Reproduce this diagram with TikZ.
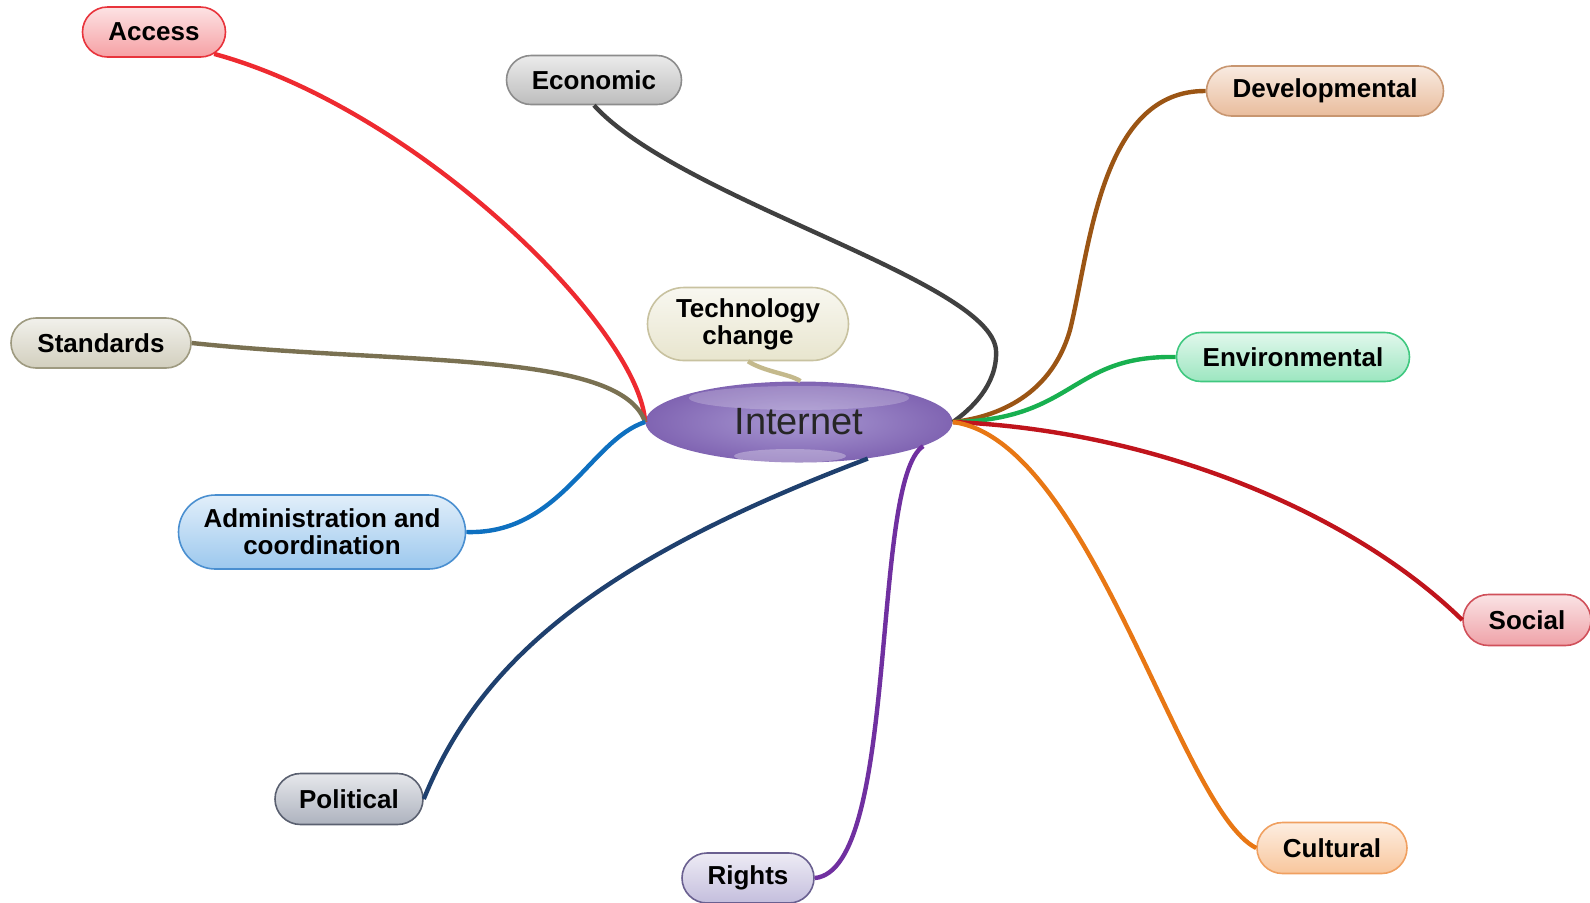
\documentclass[tikz,border=0pt]{standalone}
\usepackage{fontspec}
\setmainfont{Liberation Sans}
\usetikzlibrary{shapes.geometric}
\usetikzlibrary{shapes.misc}

% topic colours: border, fill, connector
\definecolor{accessline}{HTML}{E8343C}\definecolor{accessfill}{HTML}{F6A0A4}\definecolor{accesswire}{HTML}{EE2A30}
\definecolor{econline}{HTML}{8C8C8C}\definecolor{econfill}{HTML}{BDBDBD}\definecolor{econwire}{HTML}{404040}
\definecolor{devline}{HTML}{C89670}\definecolor{devfill}{HTML}{E9BC9C}\definecolor{devwire}{HTML}{9B5514}
\definecolor{techline}{HTML}{C8C2A0}\definecolor{techfill}{HTML}{E8E5CE}\definecolor{techwire}{HTML}{C4B98C}
\definecolor{stdline}{HTML}{9E9A80}\definecolor{stdfill}{HTML}{D2CFBE}\definecolor{stdwire}{HTML}{7A7152}
\definecolor{envline}{HTML}{40C880}\definecolor{envfill}{HTML}{9CE6C0}\definecolor{envwire}{HTML}{18B050}
\definecolor{adminline}{HTML}{4A8FD0}\definecolor{adminfill}{HTML}{9CC8EE}\definecolor{adminwire}{HTML}{0E70C0}
\definecolor{socline}{HTML}{D0505A}\definecolor{socfill}{HTML}{EFA2A8}\definecolor{socwire}{HTML}{C0141C}
\definecolor{polline}{HTML}{5A6070}\definecolor{polfill}{HTML}{ADB2BE}\definecolor{polwire}{HTML}{1F406E}
\definecolor{rightline}{HTML}{6A6090}\definecolor{rightfill}{HTML}{C4BEDD}\definecolor{rightwire}{HTML}{7030A0}
\definecolor{cultline}{HTML}{F0A060}\definecolor{cultfill}{HTML}{F8C69C}\definecolor{cultwire}{HTML}{E87714}
\definecolor{netinner}{HTML}{A898D2}\definecolor{netouter}{HTML}{8064B2}

\tikzset{
  topic/.style 2 args={rounded rectangle, draw=#1, line width=0.8pt, top color=white!70!#2, bottom color=#2,
    font=\bfseries\fontsize{13}{13.5}\selectfont, align=center, inner sep=0pt},
  link/.style={line width=2.2pt}
}

\begin{document}
\begin{tikzpicture}[x=0.5pt, y=-0.5pt]
\useasboundingbox (0,0) rectangle (1590,902);

% Centre
\node[ellipse, minimum width=153.5pt, minimum height=40.5pt, inner color=netinner, outer color=netouter] (internet) at (799,422) {};
\fill[white, opacity=0.22] (799,398) ellipse (55pt and 6pt);
\fill[white, opacity=0.3] (790,456) ellipse (28pt and 3.5pt);
\node[font=\fontsize{19}{22}\selectfont, text=black!85] (nettext) at (799,422) {Internet};

% Topics
\node[topic={accessline}{accessfill}, minimum width=71.5pt, minimum height=25pt] (access) at (154,32) {Access};
\node[topic={econline}{econfill}, minimum width=87.5pt, minimum height=24.5pt] (economic) at (594,80) {Economic};
\node[topic={devline}{devfill}, minimum width=118.5pt, minimum height=25pt] (developmental) at (1325,91) {Developmental};
\node[topic={techline}{techfill}, minimum width=100.5pt, minimum height=36.5pt] (technology) at (748,324) {Technology\\change};
\node[topic={stdline}{stdfill}, minimum width=90pt, minimum height=25pt] (standards) at (101,343) {Standards};
\node[topic={envline}{envfill}, minimum width=116.5pt, minimum height=24.5pt] (environmental) at (1293,357) {Environmental};
\node[topic={adminline}{adminfill}, minimum width=143.5pt, minimum height=37pt] (admin) at (322,532) {Administration and\\coordination};
\node[topic={socline}{socfill}, minimum width=64pt, minimum height=25.5pt] (social) at (1527,620) {Social};
\node[topic={polline}{polfill}, minimum width=74pt, minimum height=25.5pt] (political) at (349,799) {Political};
\node[topic={rightline}{rightfill}, minimum width=66pt, minimum height=25pt] (rights) at (748,878) {Rights};
\node[topic={cultline}{cultfill}, minimum width=75pt, minimum height=25.5pt] (cultural) at (1332,848) {Cultural};

% Connectors
\draw[link, accesswire] (access.-20) .. controls (420,110) and (640,330) .. (internet.west);
\draw[link, stdwire] (standards.east) .. controls (400,365) and (620,350) .. (internet.west);
\draw[link, adminwire] (admin.east) .. controls (560,535) and (590,440) .. (internet.west);
\draw[link, econwire] (economic.south) .. controls (680,200) and (990,280) .. (996,350)
  .. controls (998,385) and (970,410) .. (internet.east);
\draw[link, devwire] (developmental.west) .. controls (1100,90) and (1090,250) .. (1070,330)
  .. controls (1050,400) and (990,418) .. (internet.east);
\draw[link, envwire] (environmental.west) .. controls (1070,355) and (1075,420) .. (internet.east);
\draw[link, socwire] (social.west) .. controls (1350,510) and (1150,430) .. (internet.east);
\draw[link, cultwire] (cultural.west) .. controls (1180,810) and (1090,440) .. (internet.east);
\draw[link, rightwire] (rights.east) .. controls (900,870) and (870,480) .. (internet.-11);
\draw[link, polwire] (political.east) .. controls (480,660) and (600,560) .. (internet.-28);
\draw[link, techwire] (technology.south) .. controls (765,372) and (790,374) .. (internet.88);
\end{tikzpicture}
\end{document}
